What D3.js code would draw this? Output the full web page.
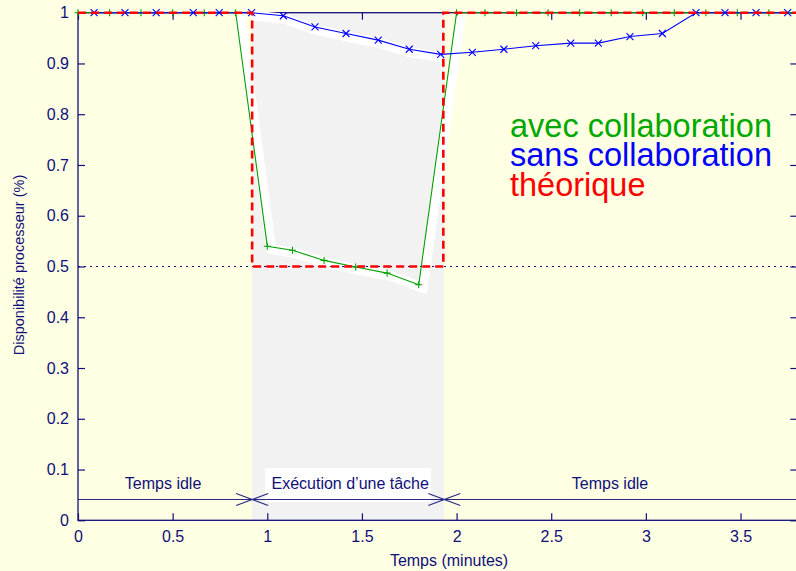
<!DOCTYPE html>
<html><head><meta charset="utf-8">
<script src="https://cdn.jsdelivr.net/npm/d3@7"></script>
<style>
html,body{margin:0;padding:0;background:#ffffe3;}
svg{display:block;font-family:"Liberation Sans",Arial,Helvetica,sans-serif;}
</style></head>
<body><svg id="c" width="796" height="571"></svg>
<script>
// ---- data ----
const greenT = [0, 0.167, 0.333, 0.5, 0.667, 0.833, 1.0, 1.133, 1.3, 1.467, 1.633, 1.8, 2.0, 2.15, 2.317, 2.483, 2.65, 2.817, 2.983, 3.15, 3.317, 3.483, 3.65, 3.817];
const greenV = [1, 1, 1, 1, 1, 1, 0.540, 0.532, 0.512, 0.499, 0.487, 0.464, 1, 1, 1, 1, 1, 1, 1, 1, 1, 1, 1, 1];
const blueT = [0.085, 0.248, 0.413, 0.609, 0.746, 0.917, 1.085, 1.252, 1.416, 1.586, 1.75, 1.916, 2.083, 2.25, 2.418, 2.603, 2.749, 2.916, 3.087, 3.265, 3.418, 3.582, 3.749];
const blueV = [1, 1, 1, 1, 1, 1, 0.994, 0.972, 0.959, 0.946, 0.928, 0.918, 0.922, 0.928, 0.935, 0.940, 0.940, 0.953, 0.959, 1, 1, 1, 1];
const redT = [0, 0.92, 0.92, 1.93, 1.93, 3.8];
const redV = [1, 1, 0.5, 0.5, 1, 1];
const execStart = 0.92, execEnd = 1.935;
const refLevel = 0.5;
const annotLevel = 0.041;
const xTicks = [0, 0.5, 1, 1.5, 2, 2.5, 3, 3.5];
const xTickLabels = ["0", "0.5", "1", "1.5", "2", "2.5", "3", "3.5"];
const yTicks = [0, 0.1, 0.2, 0.3, 0.4, 0.5, 0.6, 0.7, 0.8, 0.9, 1];
const yTickLabels = ["0", "0.1", "0.2", "0.3", "0.4", "0.5", "0.6", "0.7", "0.8", "0.9", "1"];
const legendLabels = ["avec collaboration", "sans collaboration", "théorique"];
const legendColors = ["#00a800", "#0000ff", "#ff0000"];
const phaseLabels = ["Temps idle", "Exécution d’une tâche", "Temps idle"];

// ---- drawing ----
const navy = "#10107a";
const svg = d3.select("#c");
const x = d3.scaleLinear().domain([0, 3.8]).range([78, 797.3]);
const y = d3.scaleLinear().domain([0, 1]).range([520.3, 12.7]);
const [x0, x1] = x.range();
const [y0, y1] = y.range();

svg.append("rect").attr("width", 796).attr("height", 571).attr("fill", "#ffffe3");
svg.append("rect").attr("x", x(execStart)).attr("y", y1)
  .attr("width", x(execEnd) - x(execStart)).attr("height", y0 - y1).attr("fill", "#f2f2f2");

// frame and axes (below data)
svg.append("rect").attr("x", x0).attr("y", y1).attr("width", x1 - x0).attr("height", y0 - y1)
  .attr("fill", "none").attr("stroke", navy).attr("stroke-width", 1.3);
function styleAxis(g) {
  g.select(".domain").remove();
  g.selectAll("line").attr("stroke", navy).attr("stroke-width", 1.2);
  g.selectAll("text").attr("fill", navy).attr("font-size", 16);
}
svg.append("g").attr("transform", `translate(0,${y0})`)
  .call(d3.axisBottom(x).tickValues(xTicks).tickFormat((d, i) => xTickLabels[i]).tickSizeInner(-7).tickSizeOuter(0).tickPadding(10))
  .call(styleAxis);
svg.append("g").attr("transform", `translate(0,${y1})`)
  .call(d3.axisTop(x).tickValues(xTicks).tickFormat("").tickSizeInner(-7).tickSizeOuter(0))
  .call(styleAxis);
svg.append("g").attr("transform", `translate(${x0},0)`)
  .call(d3.axisLeft(y).tickValues(yTicks).tickFormat((d, i) => yTickLabels[i]).tickSizeInner(-7).tickSizeOuter(0).tickPadding(9))
  .call(styleAxis);
svg.append("g").attr("transform", `translate(${x1},0)`)
  .call(d3.axisRight(y).tickValues(yTicks).tickFormat("").tickSizeInner(-7).tickSizeOuter(0))
  .call(styleAxis);

const gPts = greenT.map((t, i) => [x(t), y(greenV[i])]);
const bPts = blueT.map((t, i) => [x(t), y(blueV[i])]);
const line = d3.line();

// white highlight bands
svg.append("path").attr("d", line(gPts.slice(5, 13))).attr("transform", "translate(4,3)")
  .attr("fill", "none").attr("stroke", "#fff").attr("stroke-width", 10).attr("stroke-linejoin", "miter");
svg.append("path").attr("d", line(bPts.slice(5, 12))).attr("transform", "translate(1,3)")
  .attr("fill", "none").attr("stroke", "#fff").attr("stroke-width", 10).attr("stroke-linejoin", "miter");

// dotted reference line
svg.append("line").attr("x1", x0).attr("x2", x1).attr("y1", y(refLevel)).attr("y2", y(refLevel))
  .attr("stroke", navy).attr("stroke-width", 1.2).attr("stroke-dasharray", "2,4");

// green series
svg.append("path").attr("d", line(gPts)).attr("fill", "none").attr("stroke", "#00a000").attr("stroke-width", 1.1);
svg.append("g").selectAll("path").data(gPts).join("path")
  .attr("d", d => `M${d[0]-3.5},${d[1]}h7M${d[0]},${d[1]-3.5}v7`)
  .attr("stroke", "#00a000").attr("stroke-width", 1.1);

// blue series
svg.append("path").attr("d", line(bPts)).attr("fill", "none").attr("stroke", "#0000ff").attr("stroke-width", 1.1);
svg.append("g").selectAll("path").data(bPts).join("path")
  .attr("d", d => `M${d[0]-3.5},${d[1]-3.5}l7,7M${d[0]-3.5},${d[1]+3.5}l7,-7`)
  .attr("stroke", "#0000ff").attr("stroke-width", 1.1);

// red theoretical
svg.append("path").attr("d", line(redT.map((t, i) => [x(t), y(redV[i])])))
  .attr("fill", "none").attr("stroke", "#ff0000").attr("stroke-width", 2.6).attr("stroke-dasharray", "8,5");

// axis titles
svg.append("text").attr("x", 449).attr("y", 566).attr("text-anchor", "middle")
  .attr("font-size", 16).attr("fill", navy).text("Temps (minutes)");
svg.append("text").attr("transform", "translate(24,265) rotate(-90)").attr("text-anchor", "middle")
  .attr("font-size", 14.5).attr("fill", navy).text("Disponibilité processeur (%)");

// legend
svg.append("g").selectAll("text").data(legendLabels).join("text")
  .attr("x", 510).attr("y", (d, i) => 137 + i * 29.3)
  .attr("font-size", 32.5).attr("fill", (d, i) => legendColors[i]).text(d => d);

// phase annotation
const ay = y(annotLevel);
const annCol = "#2a2a85";
svg.append("rect").attr("x", x(execStart) + 13).attr("y", 468).attr("width", 166).attr("height", 34).attr("fill", "#fff");
svg.append("line").attr("x1", x0).attr("x2", x1).attr("y1", ay).attr("y2", ay).attr("stroke", annCol).attr("stroke-width", 1.2);
[execStart, execEnd].forEach(t => {
  const cx = x(t);
  svg.append("path")
    .attr("d", `M${cx-16},${ay-6}L${cx},${ay}L${cx-16},${ay+6}M${cx+16},${ay-6}L${cx},${ay}L${cx+16},${ay+6}`)
    .attr("fill", "none").attr("stroke", annCol).attr("stroke-width", 1.2);
});
const phaseX = [(x0 + x(execStart)) / 2 - 2, (x(execStart) + x(execEnd)) / 2 + 2, 610];
svg.append("g").selectAll("text").data(phaseLabels).join("text")
  .attr("x", (d, i) => phaseX[i]).attr("y", 489).attr("text-anchor", "middle")
  .attr("font-size", 16).attr("fill", navy).text(d => d);
</script></body></html>
